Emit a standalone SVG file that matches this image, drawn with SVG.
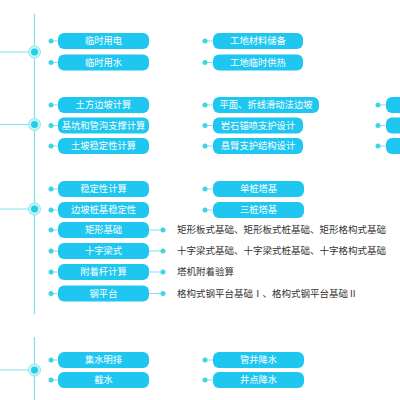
<svg xmlns="http://www.w3.org/2000/svg" width="400" height="400" viewBox="0 0 400 400">
<style>
.n{fill:#1ec6f0}
.t{fill:#fff;font-family:"Noto Sans CJK SC","Noto Sans",sans-serif;font-size:9.3px;text-anchor:middle}
.r{fill:#333;font-family:"Noto Sans CJK SC","Noto Sans",sans-serif;font-size:9.5px}
.l{stroke:#7fe2ea;stroke-width:1.2;fill:none}
.d{fill:#3fd6e2}
.halo{fill:#c8f4f7;stroke:#8fe6ee;stroke-width:1}
.core{fill:#1fd0e6}
</style>
<rect width="400" height="400" fill="#fff"/>
<g id="connectors">
<path class="l" d="M34.5 14V314M34.5 337V400M0 52H34.5M0 124.5H34.5M0 209H34.5M0 370H34.5"/>
<path class="l" d="M51 41H58M51 62.5H58M51 105H58M51 125.5H58M51 146H58M51 189H58M51 210H58M51 230H58M51 251H58M51 272H58M51 293.5H58M51 360H58M51 380H58"/>
<path class="l" d="M205 41H213M205 62.5H213M205 105H213M205 125.5H213M205 146H213M205 189H213M205 210H213M205 360H213M205 380H213M378 105H386M378 125.5H386M378 146H386"/>
<path class="l" d="M149 230H163M149 251H163M149 272H163M149 293.5H163"/>
<g class="d">
<circle cx="51" cy="41" r="2.5"/><circle cx="51" cy="62.5" r="2.5"/>
<circle cx="51" cy="105" r="2.5"/><circle cx="51" cy="125.5" r="2.5"/><circle cx="51" cy="146" r="2.5"/>
<circle cx="51" cy="189" r="2.5"/><circle cx="51" cy="210" r="2.5"/><circle cx="51" cy="230" r="2.5"/><circle cx="51" cy="251" r="2.5"/><circle cx="51" cy="272" r="2.5"/><circle cx="51" cy="293.5" r="2.5"/>
<circle cx="51" cy="360" r="2.5"/><circle cx="51" cy="380" r="2.5"/>
<circle cx="205" cy="41" r="2.5"/><circle cx="205" cy="62.5" r="2.5"/>
<circle cx="205" cy="105" r="2.5"/><circle cx="205" cy="125.5" r="2.5"/><circle cx="205" cy="146" r="2.5"/>
<circle cx="205" cy="189" r="2.5"/><circle cx="205" cy="210" r="2.5"/>
<circle cx="205" cy="360" r="2.5"/><circle cx="205" cy="380" r="2.5"/>
<circle cx="378" cy="105" r="2.5"/><circle cx="378" cy="125.5" r="2.5"/><circle cx="378" cy="146" r="2.5"/>
<circle cx="163" cy="230" r="2.5"/><circle cx="163" cy="251" r="2.5"/><circle cx="163" cy="272" r="2.5"/><circle cx="163" cy="293.5" r="2.5"/>
</g>
<g id="hubs">
<circle class="halo" cx="34.5" cy="52" r="6"/><circle class="core" cx="34.5" cy="52" r="3.5"/>
<circle class="halo" cx="34.5" cy="124.5" r="6"/><circle class="core" cx="34.5" cy="124.5" r="3.5"/>
<circle class="halo" cx="34.5" cy="209" r="6"/><circle class="core" cx="34.5" cy="209" r="3.5"/>
<circle class="halo" cx="34.5" cy="370" r="6"/><circle class="core" cx="34.5" cy="370" r="3.5"/>
</g>
</g>
<g id="n1"><rect class="n" x="58" y="33" width="91" height="16" rx="6"/><text class="t" x="103.5" y="44.3">临时用电</text></g>
<g id="n2"><rect class="n" x="58" y="54.5" width="91" height="16" rx="6"/><text class="t" x="103.5" y="65.8">临时用水</text></g>
<g id="n3"><rect class="n" x="213" y="33" width="90" height="16" rx="6"/><text class="t" x="258" y="44.3">工地材料储备</text></g>
<g id="n4"><rect class="n" x="213" y="54.5" width="90" height="16" rx="6"/><text class="t" x="258" y="65.8">工地临时供热</text></g>
<g id="n5"><rect class="n" x="58" y="97" width="91" height="16" rx="6"/><text class="t" x="103.5" y="108.3">土方边坡计算</text></g>
<g id="n6"><rect class="n" x="58" y="117.5" width="91" height="16" rx="6"/><text class="t" x="103.5" y="128.8">基坑和管沟支撑计算</text></g>
<g id="n7"><rect class="n" x="58" y="138" width="91" height="16" rx="6"/><text class="t" x="103.5" y="149.3">土坡稳定性计算</text></g>
<g id="n8"><rect class="n" x="213" y="97" width="106" height="16" rx="6"/><text class="t" x="266" y="108.3">平面、折线滑动法边坡</text></g>
<g id="n9"><rect class="n" x="213" y="117.5" width="90" height="16" rx="6"/><text class="t" x="258" y="128.8">岩石锚喷支护设计</text></g>
<g id="n10"><rect class="n" x="213" y="138" width="90" height="16" rx="6"/><text class="t" x="258" y="149.3">悬臂支护结构设计</text></g>
<g id="n11"><rect class="n" x="386" y="97" width="40" height="16" rx="6"/></g>
<g id="n12"><rect class="n" x="386" y="117.5" width="40" height="16" rx="6"/></g>
<g id="n13"><rect class="n" x="386" y="138" width="40" height="16" rx="6"/></g>
<g id="n14"><rect class="n" x="58" y="181" width="91" height="16" rx="6"/><text class="t" x="103.5" y="192.3">稳定性计算</text></g>
<g id="n15"><rect class="n" x="58" y="202" width="91" height="16" rx="6"/><text class="t" x="103.5" y="213.3">边坡桩基稳定性</text></g>
<g id="n16"><rect class="n" x="58" y="222" width="91" height="16" rx="6"/><text class="t" x="103.5" y="233.3">矩形基础</text></g>
<g id="n17"><rect class="n" x="58" y="243" width="91" height="16" rx="6"/><text class="t" x="103.5" y="254.3">十字梁式</text></g>
<g id="n18"><rect class="n" x="58" y="264" width="91" height="16" rx="6"/><text class="t" x="103.5" y="275.3">附着杆计算</text></g>
<g id="n19"><rect class="n" x="58" y="285.5" width="91" height="16" rx="6"/><text class="t" x="103.5" y="296.8">钢平台</text></g>
<g id="n20"><rect class="n" x="213" y="181" width="91" height="16" rx="6"/><text class="t" x="258.5" y="192.3">单桩塔基</text></g>
<g id="n21"><rect class="n" x="213" y="202" width="91" height="16" rx="6"/><text class="t" x="258.5" y="213.3">三桩塔基</text></g>
<g id="t1"><text class="r" x="177" y="233.3">矩形板式基础、矩形板式桩基础、矩形格构式基础</text></g>
<g id="t2"><text class="r" x="177" y="254.3">十字梁式基础、十字梁式桩基础、十字格构式基础</text></g>
<g id="t3"><text class="r" x="177" y="275.3">塔机附着验算</text></g>
<g id="t4"><text class="r" x="177" y="296.8">格构式钢平台基础Ⅰ、格构式钢平台基础Ⅱ</text></g>
<g id="n22"><rect class="n" x="58" y="352" width="91" height="16" rx="6"/><text class="t" x="103.5" y="363.3">集水明排</text></g>
<g id="n23"><rect class="n" x="58" y="372" width="91" height="16" rx="6"/><text class="t" x="103.5" y="383.3">截水</text></g>
<g id="n24"><rect class="n" x="213" y="352" width="91" height="16" rx="6"/><text class="t" x="258.5" y="363.3">管井降水</text></g>
<g id="n25"><rect class="n" x="213" y="372" width="91" height="16" rx="6"/><text class="t" x="258.5" y="383.3">井点降水</text></g>
</svg>
